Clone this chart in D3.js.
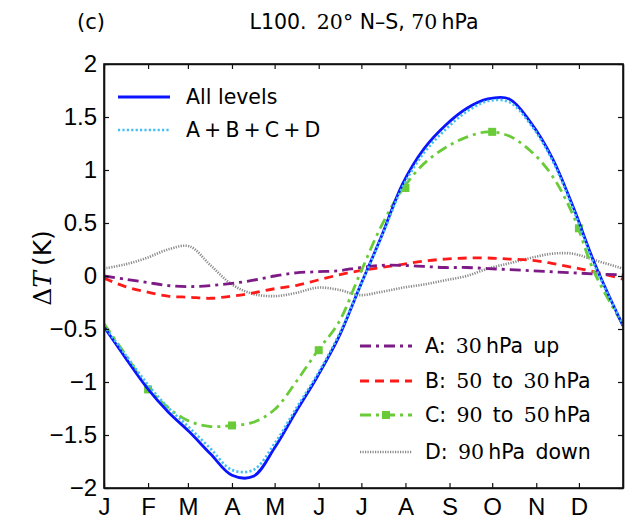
<!DOCTYPE html>
<html><head><meta charset="utf-8">
<script src="https://cdn.jsdelivr.net/npm/d3@7"></script>
<style>
html,body{margin:0;padding:0;background:#fff;}
svg{display:block;}
</style></head>
<body>
<script>
// ---- data ----
const days = [0,15,30,45,60,75,90,105,120,135,150,165,180,195,210,225,240,255,270,285,300,315,330,345,365];
const allLevels = [-0.48,-0.77,-1.05,-1.28,-1.47,-1.68,-1.88,-1.89,-1.62,-1.28,-0.95,-0.58,-0.10,0.37,0.87,1.20,1.42,1.58,1.67,1.67,1.45,1.12,0.65,0.12,-0.47];
const sumABCD   = [-0.47,-0.74,-1.01,-1.24,-1.43,-1.63,-1.83,-1.83,-1.58,-1.25,-0.93,-0.56,-0.10,0.36,0.84,1.16,1.38,1.55,1.65,1.64,1.43,1.10,0.63,0.10,-0.46];
const seriesA   = [0.00,-0.03,-0.06,-0.09,-0.10,-0.09,-0.07,-0.04,0.00,0.03,0.04,0.05,0.08,0.10,0.10,0.09,0.08,0.08,0.07,0.06,0.05,0.04,0.03,0.02,0.01];
const seriesB   = [-0.02,-0.10,-0.15,-0.19,-0.20,-0.21,-0.19,-0.16,-0.12,-0.09,-0.04,0.01,0.05,0.08,0.11,0.14,0.16,0.17,0.17,0.16,0.15,0.12,0.08,0.04,-0.03];
const seriesC   = [-0.45,-0.74,-1.04,-1.24,-1.37,-1.42,-1.41,-1.38,-1.26,-1.00,-0.71,-0.44,0.02,0.47,0.82,1.06,1.21,1.31,1.36,1.32,1.18,0.95,0.57,0.03,-0.46];
const seriesD   = [0.07,0.11,0.17,0.25,0.28,0.10,-0.08,-0.17,-0.19,-0.16,-0.11,-0.13,-0.18,-0.15,-0.11,-0.08,-0.04,0.00,0.07,0.12,0.17,0.21,0.21,0.15,0.07];
const markerDaysC   = [31,90,151,212,273,334];
const markerValuesC = [-1.07,-1.41,-0.70,0.83,1.36,0.45];
const monthStartDays = [0,31,59,90,120,151,181,212,243,273,304,334];
const monthLabels = ["J","F","M","A","M","J","J","A","S","O","N","D"];
const yTicks = [-2,-1.5,-1,-0.5,0,0.5,1,1.5,2];

// ---- layout ----
const W = 634, H = 520;
const L = 104, R = 623, T = 64, B = 488;
const svg = d3.select("body").append("svg").attr("width", W).attr("height", H);
const x = d3.scaleLinear().domain([0,365]).range([L,R]);
const y = d3.scaleLinear().domain([-2,2]).range([B,T]);
const sans = "'DejaVu Sans', sans-serif";
const helv = "'Liberation Sans', Arial, sans-serif";
const serif = "'DejaVu Serif', 'Liberation Serif', serif";

svg.append("defs").append("clipPath").attr("id","clip")
  .append("rect").attr("x",L).attr("y",T).attr("width",R-L).attr("height",B-T);

// styles
const styles = {
  D:   {color:"#8a8a8a", width:2.6, dash:"1.2,1.3"},
  B:   {color:"#ff1a1a", width:2.8, dash:"9,6"},
  A:   {color:"#7d1a86", width:2.8, dash:"11,5,3,5"},
  C:   {color:"#6acb38", width:2.8, dash:"11,5,3,5"},
  all: {color:"#0a14ff", width:2.8, dash:null},
  sum: {color:"#45bff2", width:2.6, dash:"2.2,2.2"}
};

const line = d3.line().x((d,i)=>x(days[i])).y(d=>y(d)).curve(d3.curveCatmullRom.alpha(0.5));
const g = svg.append("g").attr("clip-path","url(#clip)");
function draw(vals, s){
  const p = g.append("path").datum(vals).attr("d", line)
    .attr("fill","none").attr("stroke", s.color).attr("stroke-width", s.width)
    .attr("stroke-linejoin","round");
  if (s.dash) p.attr("stroke-dasharray", s.dash);
}
draw(seriesD, styles.D);
draw(seriesB, styles.B);
draw(seriesA, styles.A);
draw(seriesC, styles.C);
g.selectAll("rect.mk").data(markerDaysC).join("rect").attr("class","mk")
  .attr("x", d=>x(d)-4).attr("y",(d,i)=>y(markerValuesC[i])-4)
  .attr("width",8).attr("height",8).attr("fill",styles.C.color);
draw(allLevels, styles.all);
draw(sumABCD, styles.sum);

// ---- axes ----
const fmt = d => (d<0 ? "\u2212" : "") + String(Math.abs(d));
const xb = svg.append("g").attr("transform",`translate(0,${B})`)
  .call(d3.axisBottom(x).tickValues(monthStartDays).tickFormat((d,i)=>monthLabels[i]).tickSizeInner(-5).tickSizeOuter(0).tickPadding(10));
const xt = svg.append("g").attr("transform",`translate(0,${T})`)
  .call(d3.axisTop(x).tickValues(monthStartDays).tickFormat("").tickSizeInner(-5).tickSizeOuter(0));
const yl = svg.append("g").attr("transform",`translate(${L},0)`)
  .call(d3.axisLeft(y).tickValues(yTicks).tickFormat(fmt).tickSizeInner(-5).tickSizeOuter(0).tickPadding(7));
const yr = svg.append("g").attr("transform",`translate(${R},0)`)
  .call(d3.axisRight(y).tickValues(yTicks).tickFormat("").tickSizeInner(-5).tickSizeOuter(0));
[xb,xt,yl,yr].forEach(a=>{
  a.selectAll("path.domain").attr("stroke","#111").attr("stroke-width",1.6);
  a.selectAll(".tick line").attr("stroke","#111").attr("stroke-width",1.2);
  a.selectAll("text").attr("font-family",helv).attr("font-size",24).attr("fill","#000");
});
// frame
svg.append("rect").attr("x",L).attr("y",T).attr("width",R-L).attr("height",B-T)
  .attr("fill","none").attr("stroke","#111").attr("stroke-width",1.6);

// ---- titles ----
svg.append("text").attr("x",77).attr("y",29).attr("font-family",sans).attr("font-size",21).text("(c)");
const tt = svg.append("text").attr("x",364).attr("y",29).attr("text-anchor","middle").attr("font-size",20.5);
tt.append("tspan").attr("font-family",sans).text("L100.\u2002");
tt.append("tspan").attr("font-family",serif).text("20°");
tt.append("tspan").attr("font-family",sans).text(" N–S, ");
tt.append("tspan").attr("font-family",serif).text("70");
tt.append("tspan").attr("font-family",sans).text("\u2009hPa");

const yt = svg.append("text").attr("transform","translate(51,268) rotate(-90)")
  .attr("text-anchor","middle").attr("font-size",25);
yt.append("tspan").attr("font-family",serif).text("Δ");
yt.append("tspan").attr("font-family",serif).attr("font-style","italic").text("T");
yt.append("tspan").attr("font-family",sans).text("\u2009(K)");

// ---- legends ----
function legendRow(x0, x1, tx, yy, s, parts, marker){
  const p = svg.append("line").attr("x1",x0).attr("x2",x1).attr("y1",yy).attr("y2",yy)
    .attr("stroke",s.color).attr("stroke-width",s.width);
  if (s.dash) p.attr("stroke-dasharray", s.dash);
  if (marker) svg.append("rect").attr("x",(x0+x1)/2-4).attr("y",yy-4).attr("width",8).attr("height",8).attr("fill",s.color);
  const t = svg.append("text").attr("x",tx).attr("y",yy+7).attr("font-size",20.5);
  parts.forEach(([txt,f])=> t.append("tspan").attr("font-family", f==="s" ? serif : sans).text(txt));
}
legendRow(118,170,186,97, styles.all, [["All levels","n"]]);
legendRow(118,170,186,130, styles.sum, [["A\u2009+\u2009B\u2009+\u2009C\u2009+\u2009D","n"]]);
legendRow(360,412,425,346, styles.A, [["A:\u2002","n"],["30","s"],["\u2009hPa\u2002up","n"]]);
legendRow(360,412,425,381, styles.B, [["B:\u2002","n"],["50","s"],["\u2002to\u2002","n"],["30","s"],["\u2009hPa","n"]]);
legendRow(360,412,425,415, styles.C, [["C:\u2002","n"],["90","s"],["\u2002to\u2002","n"],["50","s"],["\u2009hPa","n"]], true);
legendRow(360,412,425,452, styles.D, [["D:\u2002","n"],["90","s"],["\u2009hPa\u2002down","n"]]);
</script>
</body></html>
